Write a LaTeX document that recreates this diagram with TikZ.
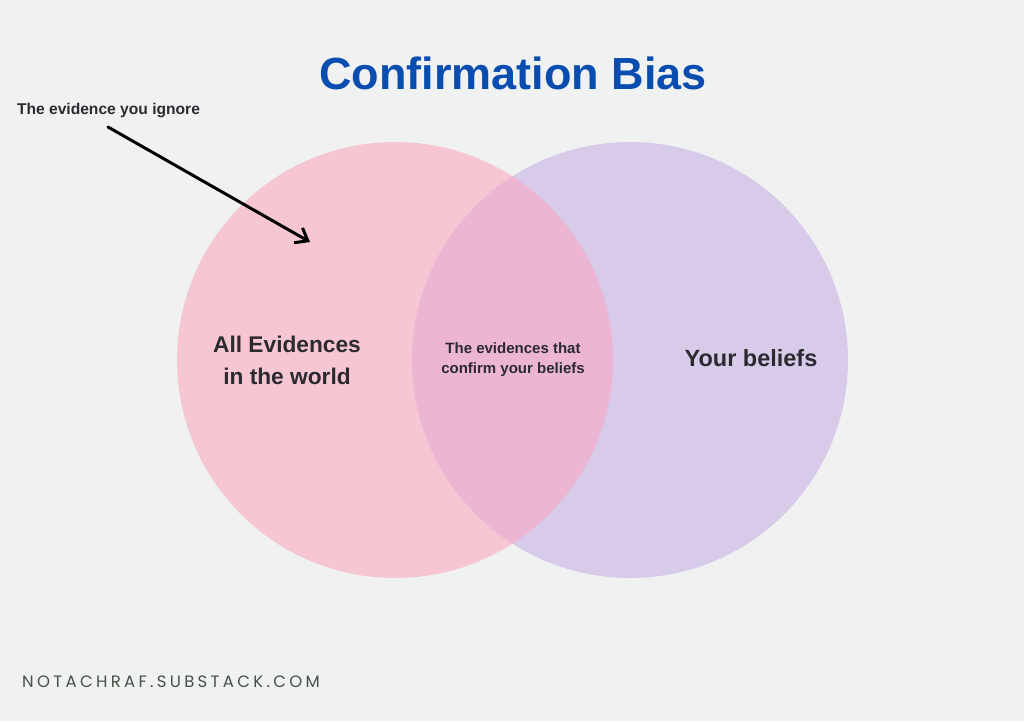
\documentclass[tikz,border=0pt]{standalone}
\usepackage{fontspec}
\usetikzlibrary{arrows.meta}
\setmainfont{Liberation Sans}
\newfontfamily\footfont[LetterSpace=20]{Poppins}
\definecolor{bgcol}{HTML}{F0F2F1}
\definecolor{pinkcol}{HTML}{F7C6D3}
\definecolor{lilaccol}{HTML}{D8CBEA}
\definecolor{mixcol}{HTML}{ECB6D3}
\definecolor{titlecol}{HTML}{0A4DB0}
\definecolor{inkcol}{HTML}{2B2A30}
\definecolor{footcol}{HTML}{4A4F48}
\tikzset{
  label/.style={text=inkcol, font=\bfseries, align=center, inner sep=0pt},
}
\begin{document}
\begin{tikzpicture}[x=1pt, y=-1pt]
            \useasboundingbox (0, 0) rectangle (1024, 721);
            \fill[bgcol] (0, 0) rectangle (1024, 721);
            % the two sets
            \fill[pinkcol] (395, 360) circle (218);
            \fill[lilaccol] (630, 360) circle (218);
            \begin{scope}
                \clip (395, 360) circle (218);
                \fill[mixcol] (630, 360) circle (218);
            \end{scope}
            \node (title) at (513, 73) [text=titlecol, font=\fontsize{45}{50}\selectfont\bfseries]{Confirmation Bias};
            \node (ignore) at (108.5, 110) [label, font=\fontsize{15.6}{18}\selectfont\bfseries]{The evidence you ignore};
            \node (all) at (287, 360) [label, font=\fontsize{22.7}{32}\selectfont\bfseries]{All Evidences\\in the world};
            \node (both) at (513, 360) [label, font=\fontsize{15}{20}\selectfont\bfseries]{The evidences that\\confirm your beliefs};
            \node (yours) at (751, 358) [label, font=\fontsize{23.5}{26}\selectfont\bfseries]{Your beliefs};
            \node (site) at (22, 682) [anchor=west, inner sep=0pt, text=footcol, font=\footfont\fontsize{16.5}{18}\selectfont]{NOTACHRAF.SUBSTACK.COM};
            \coordinate (tail) at (108, 127);
            \coordinate (head) at (310, 242);
            \draw[->, >={Straight Barb[length=11pt, width=17pt]}, line width=3pt, line cap=round] (tail)--(head);
        \end{tikzpicture}
\end{document}
